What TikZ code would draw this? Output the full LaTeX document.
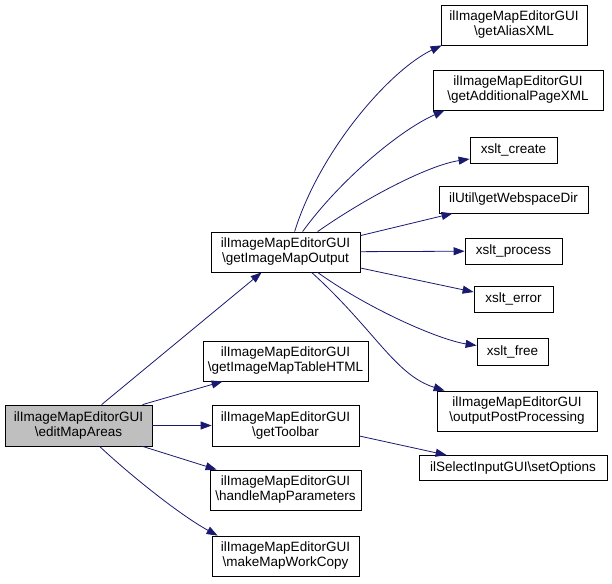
\documentclass[tikz,border=0pt]{standalone}
\usepackage{fontspec}
\setmainfont{Liberation Sans}
\usetikzlibrary{arrows.meta}
\definecolor{edgeblue}{HTML}{191970}
\definecolor{boxgray}{HTML}{BFBFBF}
\tikzset{
  fn/.style={draw=black, line width=0.8pt, fill=white, align=center, inner xsep=3pt, inner ysep=3pt,
    font=\fontsize{13.5}{15}\selectfont},
  cur/.style={fn, fill=boxgray},
  call/.style={draw=edgeblue, line width=0.8pt, -{Triangle[length=11pt,width=8pt]}},
}
\begin{document}
\begin{tikzpicture}[x=1pt,y=-1pt]
\useasboundingbox (0,0) rectangle (612,583);
\node[cur, minimum width=147pt, minimum height=41pt] (edit) at (78.5,425.5) {ilImageMapEditorGUI\\\textbackslash editMapAreas};
\node[fn, minimum width=149pt, minimum height=40pt] (out) at (285.5,252) {ilImageMapEditorGUI\\\textbackslash getImageMapOutput};
\node[fn, minimum width=165pt, minimum height=40pt] (tab) at (285.5,361) {ilImageMapEditorGUI\\\textbackslash getImageMapTableHTML};
\node[fn, minimum width=147pt, minimum height=41pt] (tool) at (285.5,425.5) {ilImageMapEditorGUI\\\textbackslash getToolbar};
\node[fn, minimum width=151pt, minimum height=40pt] (hand) at (285.5,490) {ilImageMapEditorGUI\\\textbackslash handleMapParameters};
\node[fn, minimum width=147pt, minimum height=40pt] (make) at (285.5,556) {ilImageMapEditorGUI\\\textbackslash makeMapWorkCopy};
\node[fn, minimum width=146pt, minimum height=40pt] (alias) at (514,25) {ilImageMapEditorGUI\\\textbackslash getAliasXML};
\node[fn, minimum width=170pt, minimum height=40pt] (addp) at (518,90) {ilImageMapEditorGUI\\\textbackslash getAdditionalPageXML};
\node[fn, minimum width=87pt, minimum height=26pt] (xcreate) at (513.5,150) {xslt\_create};
\node[fn, minimum width=149pt, minimum height=27pt] (web) at (513.5,199.5) {ilUtil\textbackslash getWebspaceDir};
\node[fn, minimum width=97pt, minimum height=26pt] (xproc) at (513.5,251) {xslt\_process};
\node[fn, minimum width=79pt, minimum height=26pt] (xerr) at (513.5,299) {xslt\_error};
\node[fn, minimum width=71pt, minimum height=27pt] (xfree) at (512.5,351.5) {xslt\_free};
\node[fn, minimum width=160pt, minimum height=40pt] (post) at (517,411) {ilImageMapEditorGUI\\\textbackslash outputPostProcessing};
\node[fn, minimum width=188pt, minimum height=25pt] (sel) at (513,468) {ilSelectInputGUI\textbackslash setOptions};

\draw[call] ([xshift=97pt]edit.north west) -- ([xshift=51pt]out.south west);
\draw[call] ([xshift=138pt]edit.north west) -- ([xshift=20pt]tab.south west);
\draw[call] (edit) -- (tool);
\draw[call] ([xshift=138pt]edit.south west) -- ([xshift=7pt]hand.north west);
\draw[call] ([xshift=95pt]edit.south west) .. controls (130,475) and (180,515) .. ([xshift=6pt]make.north west);

\draw[call] ([xshift=84pt]out.north west) .. controls (320,150) and (390,70) .. ([xshift=1pt]alias.south west);
\draw[call] ([xshift=92pt]out.north west) .. controls (340,180) and (400,130) .. ([xshift=12pt]addp.south west);
\draw[call] ([xshift=107pt]out.north west) .. controls (370,195) and (430,165) .. ([yshift=-9pt]xcreate.west);
\draw[call] ([yshift=-4pt]out.north east) -- ([xshift=14pt]web.south west);
\draw[call] (out) -- (xproc);
\draw[call] ([yshift=-16pt]out.east) -- ([yshift=7pt]xerr.west);
\draw[call] ([xshift=107pt]out.south west) .. controls (370,310) and (440,340) .. ([yshift=6pt]xfree.west);
\draw[call] ([xshift=101pt]out.south west) .. controls (375,330) and (395,375) .. ([xshift=8pt]post.north west);
\draw[call] ([yshift=-10.5pt]tool.east) -- ([xshift=28pt]sel.north west);
\end{tikzpicture}
\end{document}
